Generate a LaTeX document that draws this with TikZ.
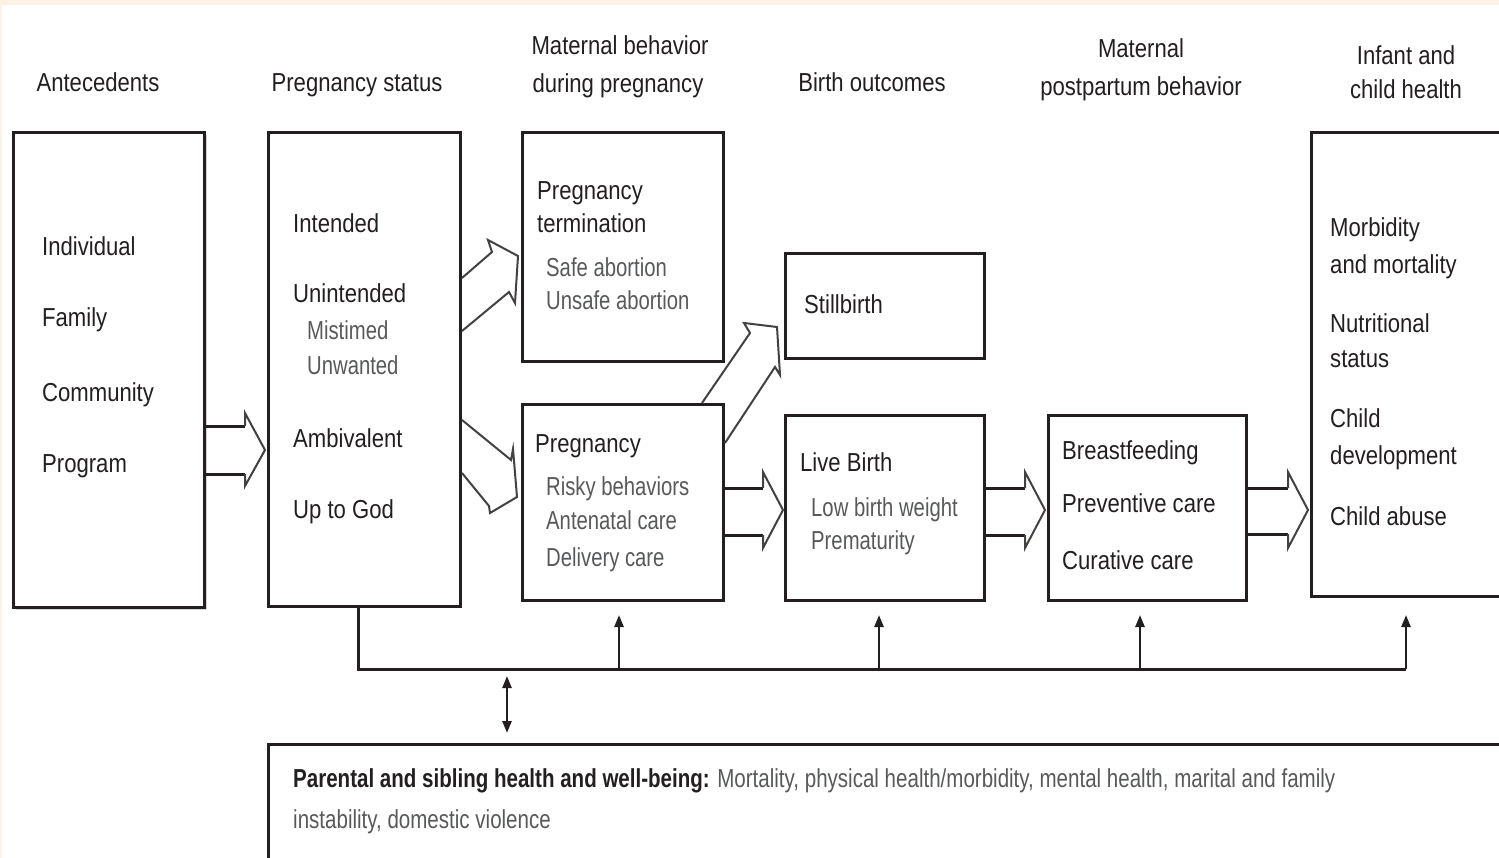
\documentclass[tikz,border=0pt]{standalone}
\usepackage{fontspec}
\setmainfont[FakeStretch=0.85]{Liberation Sans}
\newfontfamily\narrowfont[FakeStretch=0.79]{Liberation Sans}
\newfontfamily\subfont[FakeStretch=0.78]{Liberation Sans}
\usetikzlibrary{arrows.meta}
\definecolor{ink}{HTML}{231F20}
\definecolor{subgray}{HTML}{58595B}
\definecolor{shadowgray}{HTML}{D4D4D4}
\definecolor{peach}{HTML}{FDF1E6}
\newcommand\lblfont{\fontsize{26}{30}\selectfont}
\newcommand\sublblfont{\subfont\fontsize{26}{30}\selectfont}
\newcommand\notefont{\narrowfont\fontsize{26}{30}\selectfont}
\tikzset{
  box/.style={draw=ink, line width=3pt, fill=white, inner sep=0pt, anchor=north west},
  main/.style={anchor=base west, inner sep=0pt, text=ink, font=\lblfont},
  sub/.style={anchor=base west, inner sep=0pt, text=subgray, font=\sublblfont},
  head/.style={anchor=base, inner sep=0pt, text=ink, font=\lblfont},
  shaft/.style={draw=ink, line width=3pt, line join=miter},
  hollowhead/.style={draw=ink!85, line width=2pt, line join=miter},
  bus/.style={draw=ink, line width=3pt},
  uparrow/.style={draw=ink, line width=2.5pt, -{Triangle[length=12pt,width=9pt]}},
  twoway/.style={draw=ink, line width=2.5pt, {Triangle[length=12pt,width=9pt]}-{Triangle[length=12pt,width=9pt]}}
}
\begin{document}
\begin{tikzpicture}[x=1pt,y=-1pt]
\clip (0,0) rectangle (1499,858);
\fill[peach] (0,0) rectangle (1499,858);
\fill[white] (2,5) rectangle (1499,858);

% column headings
\node[head] (h1) at (98,92) {Antecedents};
\node[head] (h2) at (357,92) {Pregnancy status};
\node[head] (h3a) at (620,55) {Maternal behavior};
\node[head] (h3b) at (618,93) {during pregnancy};
\node[head] (h4) at (872,92) {Birth outcomes};
\node[head] (h5a) at (1141,58) {Maternal};
\node[head] (h5b) at (1141,96) {postpartum behavior};
\node[head] (h6a) at (1406,65) {Infant and};
\node[head] (h6b) at (1406,99) {child health};

% boxes
\fill[shadowgray] (16,135) rectangle (207,610);
\node[box, minimum width=191pt, minimum height=475pt] (ante) at (12,131) {};
\node[box, minimum width=192pt, minimum height=474pt] (pstat) at (267,131) {};
\node[box, minimum width=201pt, minimum height=229pt] (term) at (521,131) {};
\node[box, minimum width=201pt, minimum height=196pt] (preg) at (521,403) {};
\node[box, minimum width=199pt, minimum height=105pt] (still) at (784,252) {};
\node[box, minimum width=199pt, minimum height=185pt] (live) at (784,414) {};
\node[box, minimum width=198pt, minimum height=185pt] (bf) at (1047,414) {};
\node[box, minimum width=220pt, minimum height=464pt] (infant) at (1310,131) {};
\node[box, minimum width=1260pt, minimum height=140pt] (bot) at (267,743) {};

% antecedents
\node[main] (a1) at (42,256) {Individual};
\node[main] (a2) at (42,327) {Family};
\node[main] (a3) at (42,401) {Community};
\node[main] (a4) at (42,472) {Program};

% pregnancy status
\node[main] (p1) at (293,233) {Intended};
\node[main] (p2) at (293,303) {Unintended};
\node[sub]  (p3) at (307,340) {Mistimed};
\node[sub]  (p4) at (307,374) {Unwanted};
\node[main] (p5) at (293,447) {Ambivalent};
\node[main] (p6) at (293,518) {Up to God};

% termination
\node[main] (t1) at (537,200) {Pregnancy};
\node[main] (t2) at (537,233) {termination};
\node[sub]  (t3) at (546,277) {Safe abortion};
\node[sub]  (t4) at (546,310) {Unsafe abortion};

% pregnancy behaviour
\node[main] (g1) at (535,452) {Pregnancy};
\node[sub]  (g2) at (546,495) {Risky behaviors};
\node[sub]  (g3) at (546,529) {Antenatal care};
\node[sub]  (g4) at (546,566) {Delivery care};

% birth outcomes
\node[main] (s1) at (804,314) {Stillbirth};
\node[main] (l1) at (800,471) {Live Birth};
\node[sub]  (l2) at (811,516) {Low birth weight};
\node[sub]  (l3) at (811,549) {Prematurity};

% postpartum behaviour
\node[main] (b1) at (1062,459) {Breastfeeding};
\node[main] (b2) at (1062,512) {Preventive care};
\node[main] (b3) at (1062,569) {Curative care};

% infant and child health
\node[main] (i1) at (1330,237) {Morbidity};
\node[main] (i2) at (1330,274) {and mortality};
\node[main] (i3) at (1330,333) {Nutritional};
\node[main] (i4) at (1330,367) {status};
\node[main] (i5) at (1330,427) {Child};
\node[main] (i6) at (1330,464) {development};
\node[main] (i7) at (1330,525) {Child abuse};

% parental and sibling outcomes
\node[anchor=base west, inner sep=0pt, text=ink, font=\notefont] (w1) at (293,787)
  {\bfseries Parental and sibling health and well-being: \mdseries\color{subgray}Mortality, physical health/morbidity, mental health, marital and family};
\node[anchor=base west, inner sep=0pt, text=subgray, font=\notefont] (w2) at (293,828)
  {instability, domestic violence};

% hollow block arrows
\draw[shaft] (ante.east |- 0,426) -- (245,426);
\draw[shaft] (ante.east |- 0,474) -- (245,474);
\draw[hollowhead] (245,426) -- (245,413) -- (265,450) -- (245,486) -- (245,474);

\draw[hollowhead] (pstat.east |- 0,278) -- (492,252) -- (488,240) -- (518,256) -- (515,303) -- (509,292) -- (pstat.east |- 0,331);
\draw[hollowhead] (pstat.east |- 0,420) -- (511,460) -- (513,449) -- (517,497) -- (490,513) -- (489,506) -- (pstat.east |- 0,473);
\draw[hollowhead] (702,0 |- preg.north) -- (750,333) -- (744,323) -- (777,327) -- (780,375) -- (775,367) -- (preg.east |- 0,443);

\draw[shaft] (preg.east |- 0,488) -- (763,488);
\draw[shaft] (preg.east |- 0,535) -- (763,535);
\draw[hollowhead] (763,488) -- (763,472) -- (783,510) -- (763,548) -- (763,535);

\draw[shaft] (live.east |- 0,488) -- (1025,488);
\draw[shaft] (live.east |- 0,535) -- (1025,535);
\draw[hollowhead] (1025,488) -- (1025,472) -- (1045,510) -- (1025,548) -- (1025,535);

\draw[shaft] (bf.east |- 0,488) -- (1288,488);
\draw[shaft] (bf.east |- 0,534) -- (1288,534);
\draw[hollowhead] (1288,488) -- (1288,472) -- (1308,510) -- (1288,548) -- (1288,534);

% feedback bus
\coordinate (busL) at (358,669);
\coordinate (busR) at (1406,669);
\coordinate (u1) at (619,669);
\coordinate (u2) at (879,669);
\coordinate (u3) at (1140,669);
\coordinate (d1) at (507,669);
\draw[bus] (busL |- pstat.south) -- (busL) -- (busR);
\draw[uparrow, shorten >=13pt] (u1) -- (u1 |- preg.south);
\draw[uparrow, shorten >=13pt] (u2) -- (u2 |- live.south);
\draw[uparrow, shorten >=13pt] (u3) -- (u3 |- bf.south);
\draw[uparrow, shorten >=17pt] (busR) -- (busR |- infant.south);
\draw[twoway, shorten <=7pt, shorten >=10pt] (d1) -- (d1 |- bot.north);
\end{tikzpicture}
\end{document}
